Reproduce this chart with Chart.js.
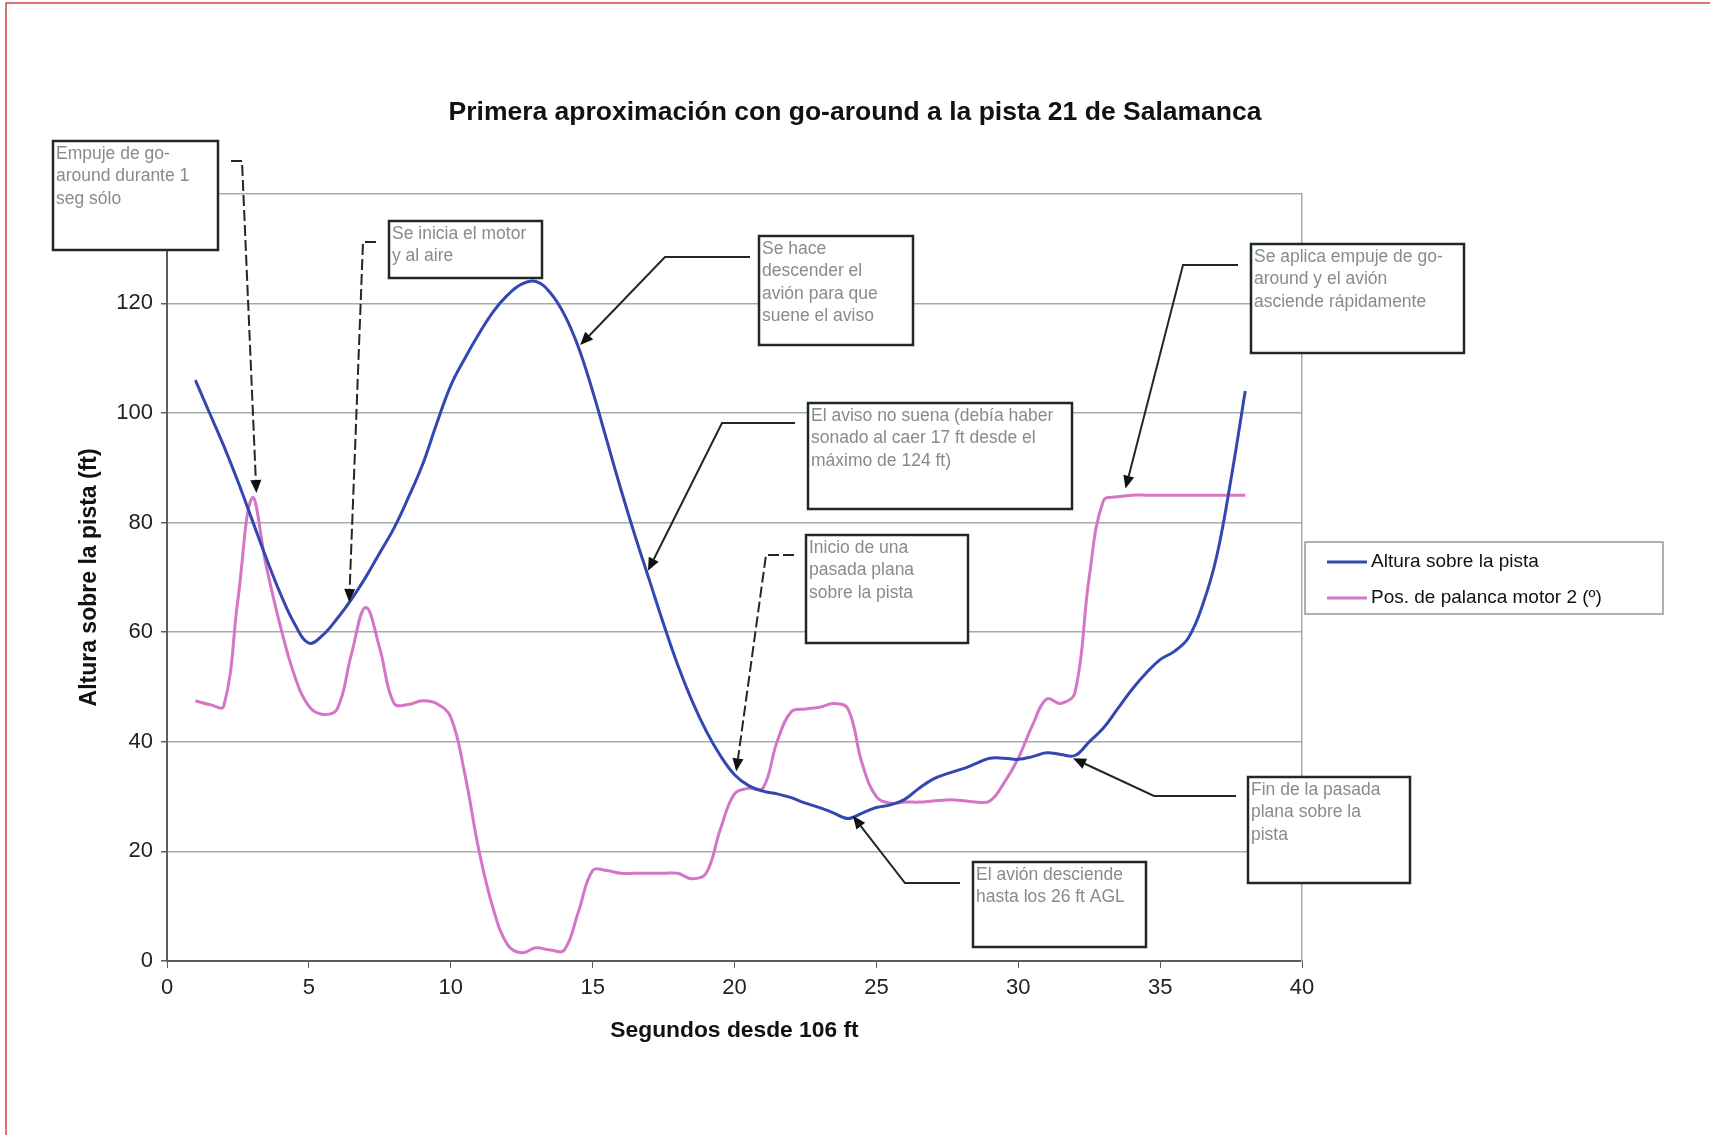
<!DOCTYPE html>
<html>
<head>
<meta charset="utf-8">
<title>Primera aproximación con go-around a la pista 21 de Salamanca</title>
<script src="https://cdn.jsdelivr.net/npm/chart.js@4.4.1/dist/chart.umd.min.js"></script>
<style>
  html, body { margin: 0; padding: 0; background: #fff; }
</style>
</head>
<body>
<canvas id="chart" width="1710" height="1135"></canvas>
<script>
// seconds since 106 ft
const segundos = [
  1, 1.5, 2, 2.5, 3, 3.5, 4, 4.5, 5, 5.5, 6, 6.5, 7, 7.5, 8, 8.5, 9, 9.5, 10, 10.5,
  11, 11.5, 12, 12.5, 13, 13.5, 14, 14.5, 15, 15.5, 16, 16.5, 17, 17.5, 18, 18.5, 19, 19.5, 20, 20.5,
  21, 21.5, 22, 22.5, 23, 23.5, 24, 24.5, 25, 25.5, 26, 26.5, 27, 27.5, 28, 28.5, 29, 29.5, 30, 30.5,
  31, 31.5, 32, 32.5, 33, 33.5, 34, 34.5, 35, 35.5, 36, 36.5, 37, 37.5, 38
];

// Altura sobre la pista (ft)
const altura = [
  106, 100, 94, 87.5, 80.5, 73.5, 67, 61.5, 58, 59.5, 62.5, 66, 70, 74.5, 79, 84.5, 90.5, 98, 105, 110,
  114.5, 118.5, 121.5, 123.5, 124, 122, 118, 112, 104, 95, 86, 77.5, 69.5, 61.5, 54, 47.5, 42, 37.5, 34, 32,
  31, 30.5, 29.8, 28.8, 28, 27, 26, 27, 28, 28.5, 29.5, 31.5, 33.2, 34.2, 35, 36, 37, 37, 36.8, 37.3,
  38, 37.7, 37.5, 40, 42.5, 46, 49.5, 52.5, 55, 56.5, 59, 65, 74, 88, 104
];

// Pos. de palanca motor 2 (º)
const palanca = [
  47.5, 46.8, 46.5, 66, 84.5, 72, 61, 52, 46.5, 45, 46, 56, 64.5, 57, 47, 46.8, 47.5, 47, 44.5, 34,
  20, 9.5, 3, 1.5, 2.4, 2, 2, 9, 16.5, 16.5, 16, 16, 16, 16, 16, 15, 16, 24, 30.5, 31.5,
  31.5, 40, 45.5, 46, 46.3, 47, 46, 36, 30, 28.8, 29, 29, 29.2, 29.4, 29.3, 29, 29.2, 32.5, 37, 43,
  47.8, 47, 49, 70, 84, 84.7, 85, 85, 85, 85, 85, 85, 85, 85, 85
];

const yTickLabels = [0, 20, 40, 60, 80, 100, 120];

// callouts: box in page pixels, arrow tip in data units
const notas = [
  { box: [53, 141, 165, 109], lines: ["Empuje de go-", "around durante 1", "seg sólo"],
    from: [231, 161], corner: [242, 161], at: [3.15, 85.4], dashed: true },
  { box: [389, 221, 153, 57], lines: ["Se inicia el motor", "y al aire"],
    from: [376, 242], corner: [363, 242], at: [6.42, 65.5], dashed: true },
  { box: [759, 236, 154, 109], lines: ["Se hace", "descender el", "avión para que", "suene el aviso"],
    from: [750, 257], corner: [665, 257], at: [14.56, 112.4], dashed: false },
  { box: [808, 403, 264, 106], lines: ["El aviso no suena (debía haber", "sonado al caer 17 ft desde el", "máximo de 124 ft)"],
    from: [795, 423], corner: [722, 423], at: [16.95, 71.2], dashed: false },
  { box: [806, 535, 162, 108], lines: ["Inicio de una", "pasada plana", "sobre la pista"],
    from: [794, 555], corner: [766, 555], at: [20.06, 34.6], dashed: true },
  { box: [973, 862, 173, 85], lines: ["El avión desciende", "hasta los 26 ft AGL"],
    from: [960, 883], corner: [905, 883], at: [24.17, 26.5], dashed: false },
  { box: [1248, 777, 162, 106], lines: ["Fin de la pasada", "plana sobre la", "pista"],
    from: [1236, 796], corner: [1154, 796], at: [31.93, 37.0], dashed: false },
  { box: [1251, 244, 213, 109], lines: ["Se aplica empuje de go-", "around y el avión", "asciende rápidamente"],
    from: [1238, 265], corner: [1183, 265], at: [33.78, 86.2], dashed: false },
];

const FONT = '"Liberation Sans", Arial, sans-serif';
const GRID = "#a3aca7";
const AXIS = "#55625c";
const INK = "#1d2a24";

const calloutPlugin = {
  id: "callouts",
  afterDatasetsDraw(chart) {
    const { ctx, scales } = chart;
    ctx.save();
    notas.forEach((n) => {
      const tx = scales.x.getPixelForValue(n.at[0]);
      const ty = scales.y.getPixelForValue(n.at[1]);
      const [cx, cy] = n.corner;
      const ang = Math.atan2(ty - cy, tx - cx);
      const head = 13;
      const hx = tx - Math.cos(ang) * head;
      const hy = ty - Math.sin(ang) * head;

      ctx.strokeStyle = INK;
      ctx.lineWidth = 2;
      ctx.setLineDash(n.dashed ? [11, 4] : []);
      ctx.beginPath();
      ctx.moveTo(n.from[0], n.from[1]);
      ctx.lineTo(cx, cy);
      ctx.lineTo(hx, hy);
      ctx.stroke();
      ctx.setLineDash([]);

      ctx.fillStyle = "#111";
      ctx.beginPath();
      ctx.moveTo(tx, ty);
      ctx.lineTo(hx + Math.sin(ang) * 5.5, hy - Math.cos(ang) * 5.5);
      ctx.lineTo(hx - Math.sin(ang) * 5.5, hy + Math.cos(ang) * 5.5);
      ctx.closePath();
      ctx.fill();

      const [bx, by, w, h] = n.box;
      ctx.fillStyle = "#fff";
      ctx.fillRect(bx, by, w, h);
      ctx.lineWidth = 2.5;
      ctx.strokeStyle = INK;
      ctx.strokeRect(bx, by, w, h);

      ctx.fillStyle = "#8a8a8a";
      ctx.font = "17.5px " + FONT;
      ctx.textBaseline = "middle";
      ctx.textAlign = "left";
      n.lines.forEach((t, i) => ctx.fillText(t, bx + 3, by + 13 + i * 22.5));
    });
    ctx.restore();
  },
  afterDraw(chart) {
    const { ctx } = chart;
    ctx.save();
    // legend box
    const lx = 1305, ly = 542, lw = 358, lh = 72;
    ctx.fillStyle = "#fff";
    ctx.fillRect(lx, ly, lw, lh);
    ctx.strokeStyle = "#8f9a94";
    ctx.lineWidth = 1.5;
    ctx.strokeRect(lx, ly, lw, lh);
    ctx.font = "19px " + FONT;
    ctx.textBaseline = "middle";
    ctx.textAlign = "left";
    chart.data.datasets.forEach((ds, i) => {
      const yy = ly + 20 + i * 36;
      ctx.strokeStyle = ds.borderColor;
      ctx.lineWidth = 3;
      ctx.beginPath();
      ctx.moveTo(lx + 22, yy);
      ctx.lineTo(lx + 62, yy);
      ctx.stroke();
      ctx.fillStyle = "#111";
      ctx.fillText(ds.label, lx + 66, yy);
    });
    // thin red frame of the original page (top and left)
    ctx.strokeStyle = "#d2434f";
    ctx.lineWidth = 1.5;
    ctx.beginPath();
    ctx.moveTo(1710, 3);
    ctx.lineTo(6, 3);
    ctx.lineTo(6, 1135);
    ctx.stroke();
    ctx.restore();
  },
};

const toPoints = (vals) => segundos.map((s, i) => ({ x: s, y: vals[i] }));

new Chart(document.getElementById("chart"), {
  type: "line",
  data: {
    datasets: [
      {
        label: "Altura sobre la pista",
        data: toPoints(altura),
        borderColor: "#3447b0",
        borderWidth: 3,
        pointRadius: 0,
        tension: 0.4,
        fill: false,
      },
      {
        label: "Pos. de palanca motor 2 (º)",
        data: toPoints(palanca),
        borderColor: "#d475c6",
        borderWidth: 3,
        pointRadius: 0,
        tension: 0.4,
        fill: false,
      },
    ],
  },
  options: {
    responsive: false,
    animation: false,
    layout: { padding: 0 },
    plugins: {
      legend: { display: false },
      tooltip: { enabled: false },
      title: {
        display: true,
        text: "Primera aproximación con go-around a la pista 21 de Salamanca",
        color: "#111",
        font: { family: FONT, size: 26.5, weight: "bold" },
        padding: { top: 97, bottom: 65 },
      },
    },
    scales: {
      x: {
        type: "linear",
        min: 0,
        max: 40,
        ticks: { stepSize: 5, color: "#222", font: { family: FONT, size: 22 }, padding: 7, maxRotation: 0 },
        grid: { drawOnChartArea: false, drawTicks: true, tickLength: 7, tickColor: AXIS },
        border: { color: AXIS, width: 2 },
        title: {
          display: true,
          text: "Segundos desde 106 ft",
          color: "#111",
          font: { family: FONT, size: 22.8, weight: "bold" },
          padding: 91,
        },
        afterFit: (s) => { s.height = 174; },
      },
      y: {
        min: 0,
        max: 140,
        ticks: {
          stepSize: 20,
          color: "#222",
          font: { family: FONT, size: 22 },
          padding: 8,
          callback: (v) => (yTickLabels.includes(v) ? String(v) : ""),
        },
        grid: { color: GRID, lineWidth: 1.5, tickLength: 6, tickColor: AXIS },
        border: { color: AXIS, width: 2 },
        title: {
          display: true,
          text: "Altura sobre la pista (ft)",
          color: "#111",
          font: { family: FONT, size: 23, weight: "bold" },
          padding: 76,
        },
        afterFit: (s) => { s.width = 167; },
      },
      yRight: {
        position: "right",
        min: 0,
        max: 140,
        ticks: { display: false },
        grid: { display: false },
        border: { display: true, color: GRID, width: 1.5 },
        afterFit: (s) => { s.width = 408; },
      },
    },
  },
  plugins: [calloutPlugin],
});
</script>
</body>
</html>
